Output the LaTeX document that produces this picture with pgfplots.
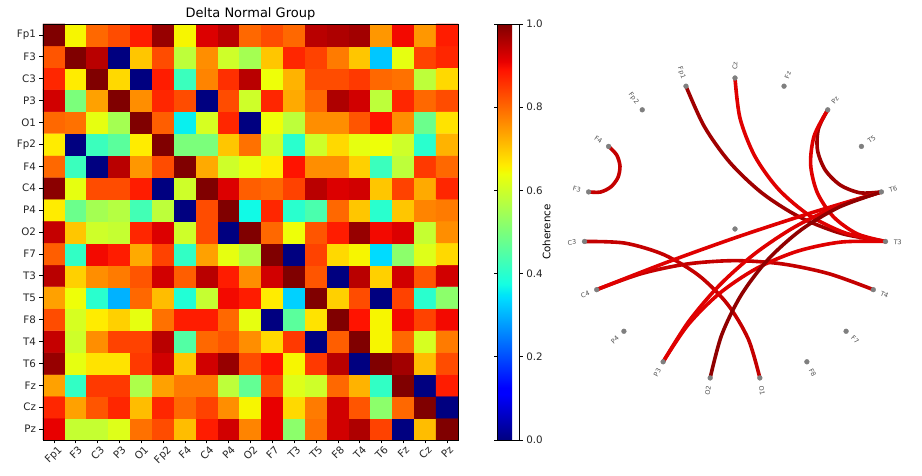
\documentclass[border=0pt]{standalone}
\usepackage{pgfplots}
\pgfplotsset{compat=1.18}
\usepackage{fontspec}
\setmainfont{DejaVu Sans}
\definecolor{eRed}{HTML}{DF0000}
\definecolor{eMid}{HTML}{C40000}
\definecolor{eDark}{HTML}{A00000}
\definecolor{eDarker}{HTML}{900000}
\definecolor{nodegray}{HTML}{7F7F7F}
\definecolor{labgray}{HTML}{505050}
\pgfplotsset{
  colormap={mpljet}{rgb(0pt)=(0,0,0.5); rgb(110pt)=(0,0,1); rgb(125pt)=(0,0,1); rgb(340pt)=(0,0.86,1); rgb(350pt)=(0,0.9,0.968); rgb(375pt)=(0.081,1,0.887); rgb(640pt)=(0.935,1,0.032); rgb(650pt)=(0.968,0.963,0); rgb(660pt)=(1,0.926,0); rgb(890pt)=(1,0.074,0); rgb(910pt)=(0.909,0,0); rgb(1000pt)=(0.5,0,0)},
  edge/.style={smooth, line width=3.6pt, line cap=round, no markers},
}
\newcommand{\tickfont}{\fontsize{10.3}{12}\selectfont}
\newcommand{\rl}[1]{\rotatebox{45}{#1}}
\begin{document}
\begin{tikzpicture}
\useasboundingbox (0,0) rectangle (922pt,476pt);
\begin{axis}[
  at={(43pt,36pt)}, anchor=south west,
  scale only axis, width=415pt, height=416pt,
  xmin=-0.5, xmax=18.5, ymin=-0.5, ymax=18.5,
  enlargelimits=false, axis on top,
  axis line style={line width=0.8pt},
  xtick={0,...,18}, ytick={0,...,18},
  xticklabels={\rl{Fp1},\rl{F3},\rl{C3},\rl{P3},\rl{O1},\rl{Fp2},\rl{F4},\rl{C4},\rl{P4},\rl{O2},\rl{F7},\rl{T3},\rl{T5},\rl{F8},\rl{T4},\rl{T6},\rl{Fz},\rl{Cz},\rl{Pz}},
  yticklabels={Pz,Cz,Fz,T6,T4,F8,T5,T3,F7,O2,P4,C4,F4,Fp2,O1,P3,C3,F3,Fp1},
  tick pos=left, tick align=outside, major tick length=3.5pt,
  tick style={black, line width=0.7pt},
  every tick label/.append style={font=\tickfont, text=black!85},
  every x tick label/.append style={anchor=north, inner sep=1.5pt},
  every axis title/.style={at={(0.5,1)}, anchor=base, yshift=6pt, font=\fontsize{13}{15}\selectfont},
  title={Delta Normal Group},
  colormap name=mpljet,
  point meta min=0, point meta max=1,
  colorbar,
  colorbar style={
    at={(parent axis.north east)}, anchor=north west, xshift=31.3pt,
    scale only axis, width=21.4pt, height=416pt,
    ytick={0,0.2,0.4,0.6,0.8,1},
    /pgf/number format/assume math mode=true,
    yticklabel style={font=\tickfont, text=black!85, /pgf/number format/fixed, /pgf/number format/fixed zerofill, /pgf/number format/precision=1},
    ylabel={Coherence}, ylabel style={font=\tickfont, yshift=7pt},
    tick align=outside, major tick length=3.5pt,
    axis line style={line width=0.8pt},
  },
]
\addplot[matrix plot*, mesh/cols=19, point meta=explicit] coordinates {
(0,0)[0.91] (1,0)[0.59] (2,0)[0.59] (3,0)[0.62] (4,0)[0.79] (5,0)[0.83] (6,0)[0.71] (7,0)[0.88] (8,0)[0.93] (9,0)[0.77] (10,0)[0.91] (11,0)[0.52] (12,0)[0.79] (13,0)[0.93] (14,0)[0.96] (15,0)[0.84] (16,0)[0.0] (17,0)[0.71] (18,0)[1.0]

(0,1)[0.87] (1,1)[0.74] (2,1)[0.82] (3,1)[0.87] (4,1)[0.71] (5,1)[0.87] (6,1)[0.80] (7,1)[0.84] (8,1)[0.76] (9,1)[0.65] (10,1)[0.91] (11,1)[0.68] (12,1)[0.78] (13,1)[0.93] (14,1)[0.82] (15,1)[0.52] (16,1)[0.80] (17,1)[1.0] (18,1)[0.0]

(0,2)[0.74] (1,2)[0.41] (2,2)[0.85] (3,2)[0.85] (4,2)[0.56] (5,2)[0.74] (6,2)[0.78] (7,2)[0.78] (8,2)[0.58] (9,2)[0.47] (10,2)[0.83] (11,2)[0.62] (12,2)[0.60] (13,2)[0.80] (14,2)[0.72] (15,2)[0.41] (16,2)[1.0] (17,2)[0.0] (18,2)[0.88]

(0,3)[0.98] (1,3)[0.63] (2,3)[0.67] (3,3)[0.67] (4,3)[0.85] (5,3)[0.93] (6,3)[0.70] (7,3)[0.93] (8,3)[0.98] (9,3)[0.83] (10,3)[0.89] (11,3)[0.65] (12,3)[0.85] (13,3)[0.95] (14,3)[0.0] (15,3)[1.0] (16,3)[0.97] (17,3)[0.71] (18,3)[0.83]

(0,4)[0.94] (1,4)[0.60] (2,4)[0.76] (3,4)[0.84] (4,4)[0.84] (5,4)[0.95] (6,4)[0.45] (7,4)[0.80] (8,4)[0.82] (9,4)[0.76] (10,4)[0.68] (11,4)[0.85] (12,4)[0.0] (13,4)[0.81] (14,4)[1.0] (15,4)[0.65] (16,4)[0.80] (17,4)[0.61] (18,4)[0.78]

(0,5)[0.83] (1,5)[0.61] (2,5)[0.66] (3,5)[0.69] (4,5)[0.63] (5,5)[0.79] (6,5)[0.88] (7,5)[0.88] (8,5)[0.80] (9,5)[0.63] (10,5)[0.0] (11,5)[0.46] (12,5)[0.67] (13,5)[1.0] (14,5)[0.89] (15,5)[0.65] (16,5)[0.90] (17,5)[0.84] (18,5)[0.90]

(0,6)[0.74] (1,6)[0.64] (2,6)[0.40] (3,6)[0.30] (4,6)[0.80] (5,6)[0.71] (6,6)[0.39] (7,6)[0.59] (8,6)[0.90] (9,6)[0.88] (10,6)[0.66] (11,6)[0.33] (12,6)[1.0] (13,6)[0.69] (14,6)[0.83] (15,6)[0.0] (16,6)[0.84] (17,6)[0.40] (18,6)[0.52]

(0,7)[0.95] (1,7)[0.69] (2,7)[0.76] (3,7)[0.78] (4,7)[0.82] (5,7)[0.93] (6,7)[0.81] (7,7)[0.95] (8,7)[0.88] (9,7)[0.76] (10,7)[0.93] (11,7)[1.0] (12,7)[0.82] (13,7)[0.0] (14,7)[0.95] (15,7)[0.69] (16,7)[0.93] (17,7)[0.82] (18,7)[0.93]

(0,8)[0.81] (1,8)[0.41] (2,8)[0.90] (3,8)[0.88] (4,8)[0.73] (5,8)[0.84] (6,8)[0.41] (7,8)[0.74] (8,8)[0.63] (9,8)[0.57] (10,8)[1.0] (11,8)[0.0] (12,8)[0.84] (13,8)[0.68] (14,8)[0.65] (15,8)[0.34] (16,8)[0.52] (17,8)[0.62] (18,8)[0.68]

(0,9)[0.94] (1,9)[0.70] (2,9)[0.60] (3,9)[0.59] (4,9)[0.87] (5,9)[0.92] (6,9)[0.60] (7,9)[0.83] (8,9)[0.0] (9,9)[1.0] (10,9)[0.80] (11,9)[0.64] (12,9)[0.82] (13,9)[0.88] (14,9)[0.98] (15,9)[0.90] (16,9)[0.92] (17,9)[0.59] (18,9)[0.76]

(0,10)[0.66] (1,10)[0.48] (2,10)[0.55] (3,10)[0.57] (4,10)[0.43] (5,10)[0.58] (6,10)[0.0] (7,10)[0.83] (8,10)[1.0] (9,10)[0.37] (10,10)[0.87] (11,10)[0.40] (12,10)[0.44] (13,10)[0.80] (14,10)[0.70] (15,10)[0.40] (16,10)[0.70] (17,10)[0.77] (18,10)[0.78]

(0,11)[0.99] (1,11)[0.63] (2,11)[0.83] (3,11)[0.83] (4,11)[0.88] (5,11)[0.0] (6,11)[0.60] (7,11)[1.0] (8,11)[0.92] (9,11)[0.81] (10,11)[0.80] (11,11)[0.84] (12,11)[0.95] (13,11)[0.92] (14,11)[0.93] (15,11)[0.70] (16,11)[0.84] (17,11)[0.73] (18,11)[0.87]

(0,12)[0.80] (1,12)[0.42] (2,12)[0.0] (3,12)[0.95] (4,12)[0.75] (5,12)[0.83] (6,12)[1.0] (7,12)[0.73] (8,12)[0.60] (9,12)[0.63] (10,12)[0.66] (11,12)[0.89] (12,12)[0.76] (13,12)[0.76] (14,12)[0.69] (15,12)[0.42] (16,12)[0.58] (17,12)[0.85] (18,12)[0.80]

(0,13)[0.66] (1,13)[0.0] (2,13)[0.42] (3,13)[0.46] (4,13)[0.66] (5,13)[1.0] (6,13)[0.50] (7,13)[0.50] (8,13)[0.70] (9,13)[0.79] (10,13)[0.60] (11,13)[0.40] (12,13)[0.60] (13,13)[0.68] (14,13)[0.63] (15,13)[0.64] (16,13)[0.60] (17,13)[0.40] (18,13)[0.72]

(0,14)[0.80] (1,14)[0.79] (2,14)[0.63] (3,14)[0.55] (4,14)[1.0] (5,14)[0.81] (6,14)[0.36] (7,14)[0.61] (8,14)[0.87] (9,14)[0.0] (10,14)[0.64] (11,14)[0.58] (12,14)[0.76] (13,14)[0.76] (14,14)[0.82] (15,14)[0.89] (16,14)[0.76] (17,14)[0.48] (18,14)[0.67]

(0,15)[0.93] (1,15)[0.50] (2,15)[0.74] (3,15)[1.0] (4,15)[0.76] (5,15)[0.87] (6,15)[0.83] (7,15)[0.0] (8,15)[0.83] (9,15)[0.60] (10,15)[0.87] (11,15)[0.73] (12,15)[0.80] (13,15)[0.96] (14,15)[0.93] (15,15)[0.58] (16,15)[0.87] (17,15)[0.80] (18,15)[0.83]

(0,16)[0.87] (1,16)[0.66] (2,16)[1.0] (3,16)[0.68] (4,16)[0.0] (5,16)[0.88] (6,16)[0.42] (7,16)[0.77] (8,16)[0.86] (9,16)[0.95] (10,16)[0.64] (11,16)[0.72] (12,16)[0.83] (13,16)[0.83] (14,16)[0.85] (15,16)[0.80] (16,16)[0.79] (17,16)[0.58] (18,16)[0.68]

(0,17)[0.82] (1,17)[1.0] (2,17)[0.95] (3,17)[0.0] (4,17)[0.70] (5,17)[0.83] (6,17)[0.58] (7,17)[0.76] (8,17)[0.60] (9,17)[0.55] (10,17)[0.70] (11,17)[0.87] (12,17)[0.84] (13,17)[0.78] (14,17)[0.70] (15,17)[0.32] (16,17)[0.63] (17,17)[0.84] (18,17)[0.87]

(0,18)[1.0] (1,18)[0.65] (2,18)[0.80] (3,18)[0.83] (4,18)[0.88] (5,18)[0.98] (6,18)[0.65] (7,18)[0.92] (8,18)[0.95] (9,18)[0.80] (10,18)[0.83] (11,18)[0.80] (12,18)[0.95] (13,18)[0.96] (14,18)[0.97] (15,18)[0.75] (16,18)[0.90] (17,18)[0.75] (18,18)[0.88]
};
\end{axis}

\begin{axis}[
  at={(560pt,0pt)}, anchor=south west,
  scale only axis, width=362pt, height=476pt,
  xmin=-175, xmax=187, ymin=-247, ymax=229,
  hide axis, clip=false,
]
% edges (circle arcs between electrodes)
\addplot[edge, color=eMid] coordinates {(-126.42,82.58) (-118.37,74.10) (-115.03,62.89) (-117.11,51.38) (-124.16,42.06) (-134.68,36.91) (-146.38,37.07)};
\addplot[edge, color=eDark] coordinates {(-49.03,142.82) (-30.59,102.31) (-4.81,66.18) (27.61,35.48) (65.21,11.65) (106.68,-4.53) (150.48,-12.47)};
\addplot[edge, color=eRed] coordinates {(0,151) (5.02,110.73) (19.77,72.93) (43.35,39.90) (74.31,13.68) (110.77,-4.14) (150.48,-12.47)};
\addplot[edge, color=eDark] coordinates {(92.75,119.16) (83.40,100.05) (82.52,78.79) (90.25,58.97) (105.30,43.92) (125.12,36.19) (146.38,37.07)};
\addplot[edge, color=eRed] coordinates {(92.75,119.16) (79.24,93.36) (75.63,64.47) (82.39,36.14) (98.64,12.00) (122.35,-4.93) (150.48,-12.47)};
\addplot[edge, color=eMid] coordinates {(-150.48,-12.47) (-109.94,-14.15) (-71.05,-25.73) (-36.19,-46.50) (-7.50,-75.19) (13.27,-110.05) (24.85,-148.94)};
\addplot[edge, color=eMid] coordinates {(-138.29,-60.66) (-93.67,-44.65) (-47.28,-34.92) (0,-31.66) (47.28,-34.92) (93.67,-44.65) (138.29,-60.66)};
\addplot[edge, color=eRed] coordinates {(-138.29,-60.66) (-68.1,-33.3) (2.7,-7.9) (74.2,15.5) (146.38,37.07)};
\addplot[edge, color=eRed] coordinates {(-71.87,-132.80) (-46.44,-92.70) (-15.91,-56.64) (19.44,-24.99) (58.76,1.49) (101.34,22.30) (146.38,37.07)};
\addplot[edge, color=eRed] coordinates {(-71.87,-132.80) (-46.94,-95.79) (-15.61,-64.46) (21.40,-39.54) (62.42,-22.22) (105.97,-13.08) (150.48,-12.47)};
\addplot[edge, color=eDarker] coordinates {(-24.85,-148.94) (-13.32,-105.95) (6.22,-65.96) (33.08,-30.45) (66.25,-0.75) (104.48,22.02) (146.38,37.07)};
% electrodes
\addplot[only marks, mark=*, mark size=2.4pt, color=nodegray] coordinates {
(0,151) (-49.03,142.82) (-92.75,119.16) (-126.42,82.58) (-146.38,37.07) (-150.48,-12.47) (-138.29,-60.66) (-111.09,-102.27) (-71.87,-132.80) (-24.85,-148.94) (24.85,-148.94) (71.87,-132.80) (111.09,-102.27) (138.29,-60.66) (150.48,-12.47) (146.38,37.07) (126.42,82.58) (92.75,119.16) (49.03,142.82) (0,0)};
\begin{scope}[every node/.style={font=\fontsize{6.5}{7}\selectfont, text=labgray, inner sep=0pt}]
\node[rotate=90, anchor=west] at (axis cs:0,159) {Cz};
\node[rotate=-71.05, anchor=east] at (axis cs:-51.6,150.4) {Fp1};
\node[rotate=-52.1, anchor=east] at (axis cs:-97.7,125.5) {Fp2};
\node[rotate=-33.16, anchor=east] at (axis cs:-133.1,87.0) {F4};
\node[rotate=-14.21, anchor=east] at (axis cs:-154.1,39.0) {F3};
\node[rotate=4.74, anchor=east] at (axis cs:-158.5,-13.1) {C3};
\node[rotate=23.68, anchor=east] at (axis cs:-145.6,-63.9) {C4};
\node[rotate=42.63, anchor=east] at (axis cs:-117.0,-107.7) {P4};
\node[rotate=61.58, anchor=east] at (axis cs:-75.7,-139.8) {P3};
\node[rotate=80.53, anchor=east] at (axis cs:-26.2,-156.8) {O2};
\node[rotate=-80.53, anchor=west] at (axis cs:26.2,-156.8) {O1};
\node[rotate=-61.58, anchor=west] at (axis cs:75.7,-139.8) {F8};
\node[rotate=-42.63, anchor=west] at (axis cs:117.0,-107.7) {F7};
\node[rotate=-23.68, anchor=west] at (axis cs:145.6,-63.9) {T4};
\node[rotate=-4.74, anchor=west] at (axis cs:158.5,-13.1) {T3};
\node[rotate=14.21, anchor=west] at (axis cs:154.1,39.0) {T6};
\node[rotate=33.16, anchor=west] at (axis cs:133.1,87.0) {T5};
\node[rotate=52.1, anchor=west] at (axis cs:97.7,125.5) {Pz};
\node[rotate=71.05, anchor=west] at (axis cs:51.6,150.4) {Fz};
\end{scope}
\end{axis}
\end{tikzpicture}
\end{document}
